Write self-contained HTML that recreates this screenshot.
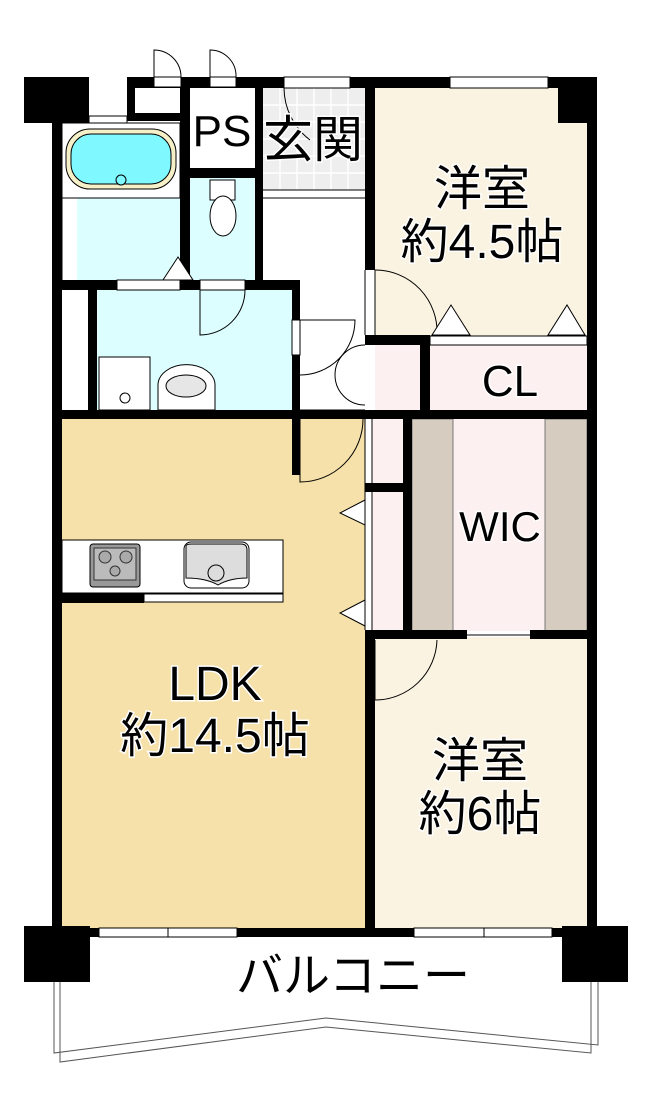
<!DOCTYPE html>
<html><head><meta charset="utf-8"><style>
html,body{margin:0;padding:0;background:#fff}
svg{display:block}
text{font-family:"Liberation Sans","Noto Sans CJK JP",sans-serif;fill:#000;stroke:#fff;stroke-width:3;paint-order:stroke}
</style></head><body>
<svg width="649" height="1111" viewBox="0 0 649 1111" xmlns="http://www.w3.org/2000/svg">
<rect x="62" y="418" width="303" height="512" fill="#f5e1a9"/>
<rect x="375" y="88" width="212" height="248" fill="#faf3e1"/>
<rect x="375" y="637" width="212" height="292" fill="#faf3e1"/>
<rect x="430" y="345" width="157" height="66" fill="#fdf0f0"/>
<rect x="375" y="345" width="45" height="66" fill="#fdf0f0"/>
<rect x="372" y="419" width="31" height="212" fill="#fdf0f0"/>
<rect x="412" y="419" width="175" height="212" fill="#fdf0f0"/>
<rect x="412" y="419" width="41" height="212" fill="#d6ccbf" stroke="#777" stroke-width="1"/>
<rect x="545" y="419" width="42" height="212" fill="#d6ccbf" stroke="#777" stroke-width="1"/>
<rect x="97" y="290" width="195" height="120" fill="#dcfeff"/>
<rect x="190" y="178" width="65" height="102" fill="#dcfeff"/>
<rect x="77" y="198" width="103" height="82" fill="#dcfeff"/>
<rect x="263" y="88" width="102" height="102" fill="#eeeeee"/>
<g stroke="#fff" stroke-width="1.5">
<line x1="263" y1="105" x2="365" y2="105"/><line x1="263" y1="122" x2="365" y2="122"/><line x1="263" y1="139" x2="365" y2="139"/><line x1="263" y1="156" x2="365" y2="156"/><line x1="263" y1="173" x2="365" y2="173"/>
<line x1="280" y1="88" x2="280" y2="190"/><line x1="297" y1="88" x2="297" y2="190"/><line x1="314" y1="88" x2="314" y2="190"/><line x1="331" y1="88" x2="331" y2="190"/><line x1="348" y1="88" x2="348" y2="190"/>
</g>
<line x1="263" y1="190" x2="365" y2="190" stroke="#000" stroke-width="1"/>
<line x1="263" y1="198" x2="365" y2="198" stroke="#000" stroke-width="1"/>
<g fill="#000">
<rect x="24" y="77" width="65" height="46"/>
<rect x="558" y="77" width="39" height="46"/>
<rect x="127" y="77" width="460" height="11"/>
<rect x="127" y="77" width="8" height="41"/>
<rect x="127" y="113" width="63" height="8"/>
<rect x="52" y="118" width="10" height="812"/>
<rect x="180" y="88" width="10" height="200"/>
<rect x="190" y="168" width="65" height="10"/>
<rect x="255" y="88" width="8" height="200"/>
<rect x="52" y="280" width="248" height="10"/>
<rect x="88" y="290" width="9" height="122"/>
<rect x="292" y="280" width="8" height="40"/>
<rect x="292" y="355" width="8" height="62"/>
<rect x="52" y="410" width="248" height="9"/>
<rect x="292" y="410" width="8" height="65"/>
<rect x="365" y="88" width="10" height="182"/>
<rect x="365" y="335" width="65" height="10"/>
<rect x="420" y="335" width="10" height="76"/>
<rect x="300" y="410" width="297" height="9"/>
<rect x="403" y="410" width="9" height="225"/>
<rect x="365" y="483" width="40" height="9"/>
<rect x="365" y="630" width="102" height="9"/>
<rect x="530" y="630" width="67" height="9"/>
<rect x="587" y="77" width="10" height="860"/>
<rect x="365" y="637" width="10" height="300"/>
<rect x="62" y="593" width="82" height="10"/>
<rect x="24" y="928" width="573" height="9"/>
<rect x="24" y="926" width="66" height="56"/>
<rect x="562" y="926" width="66" height="56"/>
</g>
<g fill="#fff" stroke="#000" stroke-width="1">
<rect x="154" y="77" width="27" height="10"/>
<rect x="210" y="77" width="26" height="10"/>
<rect x="284" y="77" width="66" height="11"/>
<rect x="450" y="77" width="98" height="11"/>
<rect x="89" y="116" width="38" height="7"/>
<rect x="117" y="280" width="63" height="10"/>
<rect x="200" y="280" width="45" height="10"/>
<rect x="292" y="320" width="8" height="35"/>
<rect x="430" y="336" width="157" height="9"/>
<rect x="99" y="928" width="138" height="9"/>
<rect x="414" y="928" width="138" height="9"/>
<rect x="144" y="594" width="139" height="8"/>
<rect x="62" y="540" width="221" height="53"/>
</g>
<g stroke="#000" stroke-width="1" fill="none">
<line x1="168" y1="928" x2="168" y2="937"/><line x1="484" y1="928" x2="484" y2="937"/>
<line x1="365" y1="270" x2="365" y2="335"/><line x1="375" y1="270" x2="375" y2="335"/>
<line x1="300" y1="410" x2="365" y2="410"/>
<line x1="365" y1="419" x2="365" y2="630"/><line x1="372" y1="419" x2="372" y2="630"/>
<line x1="467" y1="635" x2="530" y2="635"/>
<line x1="62" y1="123" x2="62" y2="280"/>
<rect x="62" y="123" width="118" height="75" fill="#fff"/>
<path d="M154 77 V50 A27 27 0 0 1 181 77"/>
<path d="M210 77 V50 A26 26 0 0 1 236 77"/>
<path d="M284 88 A66 66 0 0 0 310 140"/>
<path d="M200 290 V335 A45 45 0 0 0 245 290"/>
<path d="M300 320 H355 A55 55 0 0 1 300 375"/>
<path d="M365 345 A30 30 0 0 0 335 375 A30 30 0 0 0 365 405"/>
<path d="M300 419 V482 A63 63 0 0 0 363 419"/>
<path d="M375 270 A62 62 0 0 1 437 335"/>
<path d="M375 640 V700 A62 62 0 0 0 437 640"/>
<polygon points="432,335 451,305 470,335" fill="#fff"/>
<polygon points="548,335 567,305 585,335" fill="#fff"/>
<polygon points="163,280 178,257 193,280" fill="#fff"/>
<polygon points="365,500 340,513 365,525" fill="#fff"/>
<polygon points="365,600 340,613 365,626" fill="#fff"/>
<polyline points="54,982 54,1053 326,1018 598,1045 598,982" stroke="#555"/>
<polyline points="60,982 60,1062 326,1027 591,1053 591,982" stroke="#555"/>
</g>
<rect x="66" y="129" width="110" height="60" rx="24" fill="#f5f0c8" stroke="#000" stroke-width="1"/>
<rect x="71" y="134" width="100" height="50" rx="20" fill="#7ff8ff" stroke="#000" stroke-width="1"/>
<circle cx="121" cy="180" r="5" fill="#7ff8ff" stroke="#000"/>
<rect x="210" y="180" width="25" height="20" fill="#fff" stroke="#000"/>
<ellipse cx="223" cy="216" rx="13" ry="20" fill="#fff" stroke="#000"/>
<rect x="99" y="357" width="51" height="53" fill="#fff" stroke="#000"/>
<circle cx="125" cy="398" r="5" fill="#fff" stroke="#000"/>
<path d="M158 410 V385 A28 20 0 0 1 215 385 V410 Z" fill="#fff" stroke="#000"/>
<ellipse cx="186" cy="386" rx="20" ry="11" fill="#e6e6e6" stroke="#000"/>
<rect x="90" y="544" width="50" height="43" rx="3" fill="#999" stroke="#000"/>
<rect x="94" y="548" width="42" height="32" fill="#bbb" stroke="#333"/>
<circle cx="105" cy="557" r="6" fill="#aaa" stroke="#333"/><circle cx="126" cy="557" r="6" fill="#aaa" stroke="#333"/><circle cx="115" cy="571" r="5" fill="#aaa" stroke="#333"/>
<rect x="184" y="542" width="65" height="46" rx="7" fill="#fff" stroke="#000"/>
<path d="M186 546 Q186 544 192 544 H241 Q247 544 247 550 V578 Q230 578 218 585 Q206 578 186 578 Z" fill="#ddd" stroke="#000"/>
<circle cx="216" cy="573" r="8" fill="#ddd" stroke="#000"/>
<text x="222" y="146" font-size="44" text-anchor="middle">PS</text>
<text x="313" y="157" font-size="50" text-anchor="middle">玄関</text>
<text x="482" y="205" font-size="48" text-anchor="middle">洋室</text>
<text x="482" y="258" font-size="48" text-anchor="middle">約4.5帖</text>
<text x="510" y="396" font-size="44" text-anchor="middle">CL</text>
<text x="500" y="541" font-size="42" text-anchor="middle">WIC</text>
<text x="215" y="700" font-size="48" text-anchor="middle">LDK</text>
<text x="215" y="752" font-size="48" text-anchor="middle">約14.5帖</text>
<text x="480" y="777" font-size="48" text-anchor="middle">洋室</text>
<text x="480" y="830" font-size="48" text-anchor="middle">約6帖</text>
<text x="353" y="992" font-size="47" text-anchor="middle">バルコニー</text>
</svg>
</body></html>
